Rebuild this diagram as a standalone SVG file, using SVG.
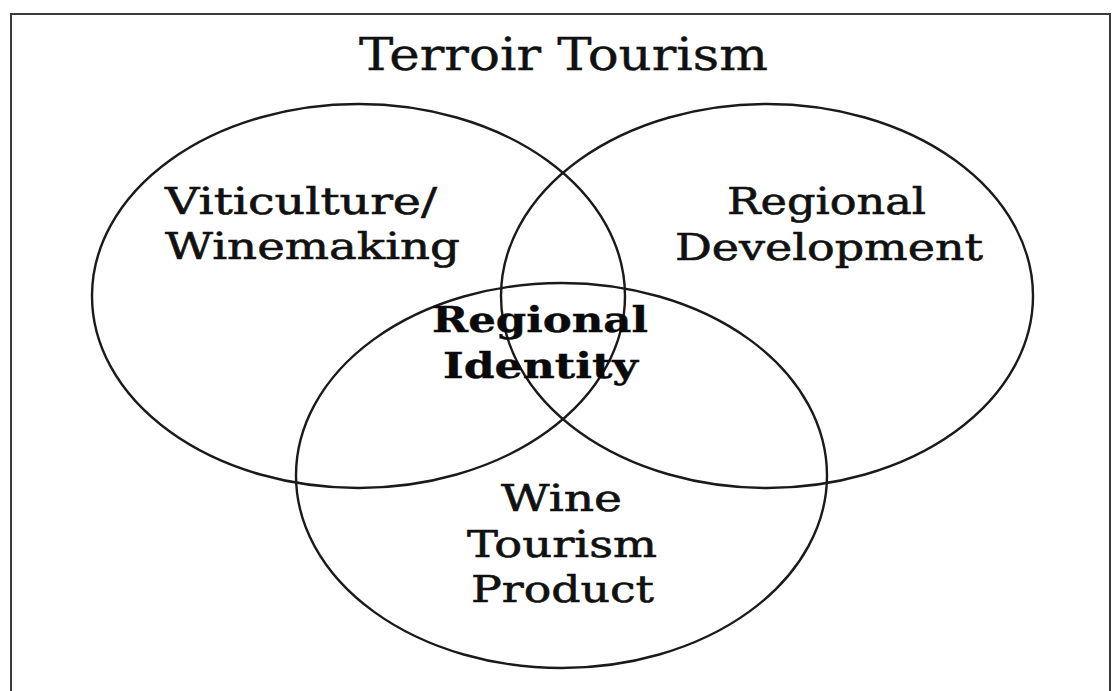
<svg xmlns="http://www.w3.org/2000/svg" width="1112" height="691" viewBox="0 0 1112 691">
  <style>
    .frame { fill: none; stroke: #3a3a3a; stroke-width: 2; }
    .set { fill: none; stroke: #1a1a1a; stroke-width: 2.4; }
    .title { font-family: "DejaVu Serif", "Liberation Serif", serif; font-size: 44px; fill: #111; stroke: #111; stroke-width: 0.4; }
    .label { font-family: "DejaVu Serif", "Liberation Serif", serif; font-size: 37px; fill: #111; stroke: #111; stroke-width: 0.6; }
    .core { font-family: "DejaVu Serif", "Liberation Serif", serif; font-size: 36px; font-weight: bold; fill: #0a0a0a; stroke: #0a0a0a; stroke-width: 0.4; }
  </style>
  <rect width="1112" height="691" fill="#ffffff"/>
  <!-- outer frame, open at the bottom edge -->
  <rect class="frame" x="11" y="14" width="1099" height="720"/>

  <g id="title">
    <text class="title" x="359" y="70" textLength="409" lengthAdjust="spacingAndGlyphs">Terroir Tourism</text>
  </g>

  <g id="sets">
    <g id="viticulture">
      <ellipse class="set" cx="358.5" cy="296" rx="266.5" ry="192"/>
      <text class="label" x="165" y="214" textLength="272" lengthAdjust="spacingAndGlyphs">Viticulture/</text>
      <text class="label" x="165" y="259" textLength="295" lengthAdjust="spacingAndGlyphs">Winemaking</text>
    </g>
    <g id="regional-development">
      <ellipse class="set" cx="767" cy="296" rx="266" ry="192"/>
      <text class="label" x="727" y="214" textLength="199" lengthAdjust="spacingAndGlyphs">Regional</text>
      <text class="label" x="675" y="260" textLength="308" lengthAdjust="spacingAndGlyphs">Development</text>
    </g>
    <g id="wine-tourism-product">
      <ellipse class="set" cx="561.5" cy="475.5" rx="265.5" ry="192.5"/>
      <text class="label" x="501" y="511" textLength="121" lengthAdjust="spacingAndGlyphs">Wine</text>
      <text class="label" x="467" y="557" textLength="190" lengthAdjust="spacingAndGlyphs">Tourism</text>
      <text class="label" x="471" y="602" textLength="183" lengthAdjust="spacingAndGlyphs">Product</text>
    </g>
  </g>

  <g id="regional-identity">
    <text class="core" x="432" y="332" textLength="216" lengthAdjust="spacingAndGlyphs">Regional</text>
    <text class="core" x="443" y="378" textLength="195" lengthAdjust="spacingAndGlyphs">Identity</text>
  </g>
</svg>
